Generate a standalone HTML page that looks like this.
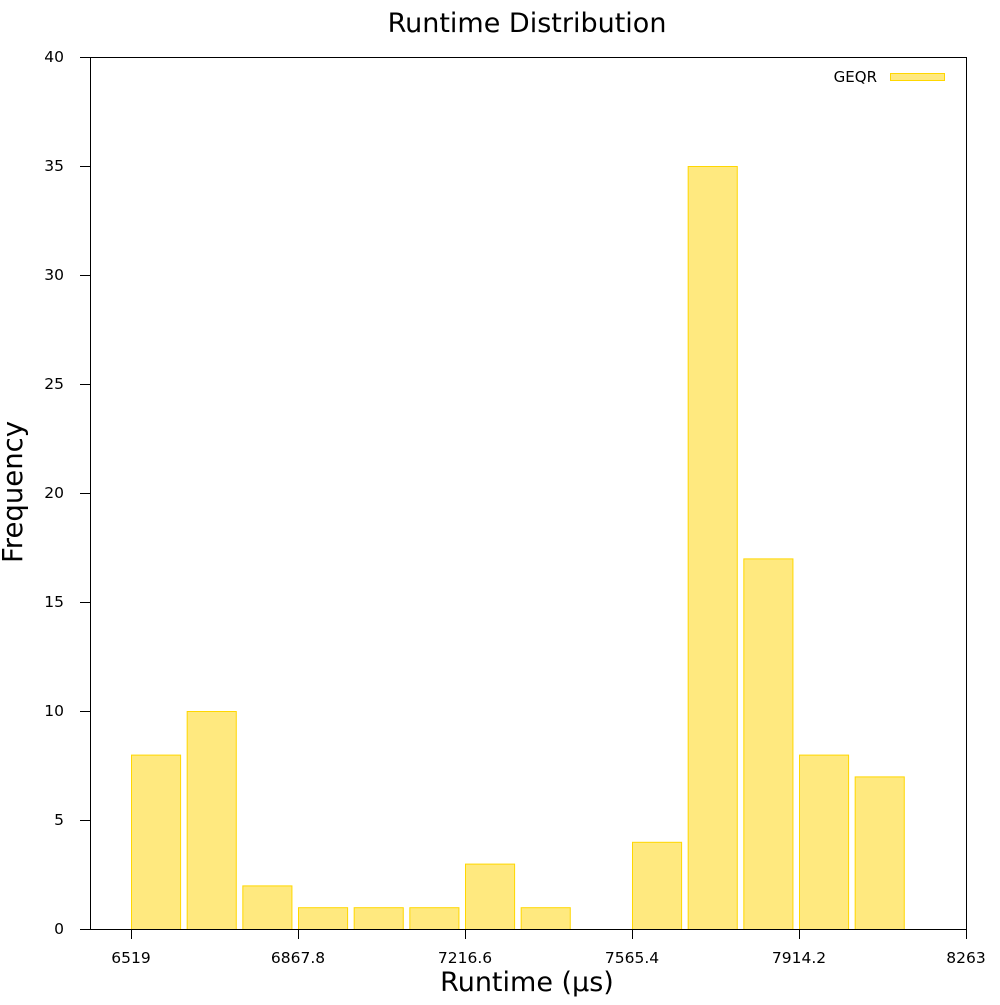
<!DOCTYPE html>
<html><head><meta charset="utf-8"><style>
body{margin:0;background:#fff}
svg text{font-family:"DejaVu Sans","Liberation Sans",sans-serif;fill:#000}
</style></head><body>
<svg id="chart" width="1000" height="1000">
<rect x="0" y="0" width="1000" height="1000" fill="#fff"/>
<defs><clipPath id="clip"><rect x="90" y="57" width="877" height="872"/></clipPath></defs>
<text x="527" y="32" font-size="27" text-anchor="middle">Runtime Distribution</text>
<g id="bars" clip-path="url(#clip)"></g>
<g id="axes"></g>
<rect x="90.5" y="57.5" width="876" height="872" fill="none" stroke="#000" stroke-width="1"/>
<text x="527" y="991" font-size="27" text-anchor="middle">Runtime (µs)</text>
<text transform="translate(22,492) rotate(-90)" font-size="27.5" text-anchor="middle">Frequency</text>
<g>
<text x="877" y="82" font-size="15" text-anchor="end">GEQR</text>
<rect x="890.5" y="73.5" width="54" height="7" fill="#ffe97f" stroke="#ffd700"/>
</g>
</svg>
<script>
const binStart = 6519;
const binWidth = 116.2667;
const counts = [8,10,2,1,1,1,3,1,0,4,35,17,8,7,0,1];
const xTicks = [6519, 6867.8, 7216.6, 7565.4, 7914.2, 8263];
const xTickLabels = ["6519","6867.8","7216.6","7565.4","7914.2","8263"];
const yTicks = [0,5,10,15,20,25,30,35,40];

const L=90,R=966,T=57,B=929;
const xMin=6519-(131-90)*(8263-6519)/(966-131), xMax=8263;
const yMax=40;
const X=v=>L+(v-xMin)/(xMax-xMin)*(R-L);
const Y=v=>B-v/yMax*(B-T);
const NS="http://www.w3.org/2000/svg";
const bars=document.getElementById('bars'), axes=document.getElementById('axes');
counts.forEach((c,i)=>{
  if(!c) return;
  const x0=binStart+i*binWidth;
  const w=(X(binStart+binWidth)-X(binStart))*0.9;
  const r=document.createElementNS(NS,'rect');
  r.setAttribute('x',X(x0)+0.5);r.setAttribute('width',w-1);
  r.setAttribute('y',Y(c)+0.5);r.setAttribute('height',Y(0)-Y(c));
  r.setAttribute('fill','#ffe97f');r.setAttribute('stroke','#ffd700');
  
  
  bars.appendChild(r);
});
yTicks.forEach(v=>{
  const l=document.createElementNS(NS,'line');
  l.setAttribute('x1',80);l.setAttribute('x2',90);l.setAttribute('y1',Y(v)+0.5);l.setAttribute('y2',Y(v)+0.5);l.setAttribute('stroke','#000');
  
  
  axes.appendChild(l);
  const t=document.createElementNS(NS,'text');
  t.setAttribute('x',64);t.setAttribute('y',Y(v)+5);t.setAttribute('font-size','15.5');t.setAttribute('text-anchor','end');
  t.textContent=v;
  
  
  axes.appendChild(t);
});
xTicks.forEach((v,i)=>{
  const l=document.createElementNS(NS,'line');
  l.setAttribute('x1',X(v)+0.5);l.setAttribute('x2',X(v)+0.5);l.setAttribute('y1',929);l.setAttribute('y2',939);l.setAttribute('stroke','#000');
  
  
  axes.appendChild(l);
  const t=document.createElementNS(NS,'text');
  t.setAttribute('x',X(v));t.setAttribute('y',963);t.setAttribute('font-size','15.5');t.setAttribute('text-anchor','middle');
  t.textContent=xTickLabels[i];
  
  
  axes.appendChild(t);
});
</script>
</body></html>
